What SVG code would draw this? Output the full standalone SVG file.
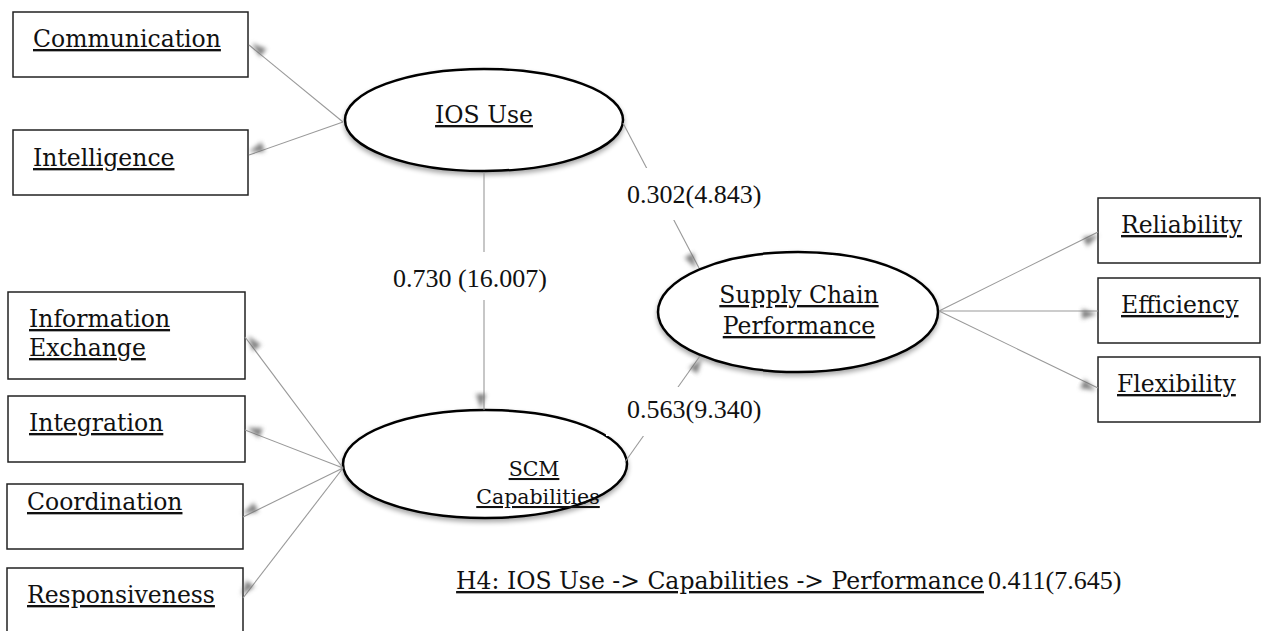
<svg xmlns="http://www.w3.org/2000/svg" width="1265" height="631" viewBox="0 0 1265 631">
<style>
.box{fill:#fff;stroke:#222;stroke-width:1.5}
.lat{fill:#fff;stroke:#000;stroke-width:2.5}
.lbl{font-family:"DejaVu Serif",Georgia,serif;font-size:23.5px;fill:#111;text-decoration:underline}
.sm{font-size:20.5px}
.mid{text-anchor:middle}
.num{font-family:"Liberation Serif","Times New Roman",serif;font-size:26px;fill:#111}
.conn{stroke:#999;stroke-width:1.1;fill:none;marker-end:url(#ah)}
.bg{fill:#fff}
</style>
<defs>
<filter id="sh" x="-20%" y="-20%" width="140%" height="150%">
<feGaussianBlur in="SourceAlpha" stdDeviation="2.5"/>
<feOffset dx="0" dy="3" result="b"/>
<feComponentTransfer><feFuncA type="linear" slope="0.35"/></feComponentTransfer>
<feMerge><feMergeNode/><feMergeNode in="SourceGraphic"/></feMerge>
</filter>
<filter id="blur" x="-100%" y="-100%" width="300%" height="300%">
<feGaussianBlur stdDeviation="2.3"/>
</filter>
<marker id="ah" markerUnits="userSpaceOnUse" markerWidth="40" markerHeight="40" viewBox="-20 -20 40 40" refX="0" refY="0" orient="auto">
<path d="M-15,-5 L0,0 L-15,5 z" fill="#666" fill-opacity="0.85" filter="url(#blur)" transform="translate(-1,3)"/>
</marker>
</defs>

<g id="communication"><rect class="box" x="13" y="12" width="235" height="65"/><text class="lbl" x="33" y="47">Communication</text></g>
<g id="intelligence"><rect class="box" x="13" y="130" width="235" height="65"/><text class="lbl" x="33" y="166">Intelligence</text></g>
<g id="information-exchange"><rect class="box" x="8" y="292" width="237" height="87"/><text class="lbl" x="29" y="327">Information</text><text class="lbl" x="29" y="356">Exchange</text></g>
<g id="integration"><rect class="box" x="8" y="396" width="237" height="66"/><text class="lbl" x="29" y="431">Integration</text></g>
<g id="coordination"><rect class="box" x="7" y="484" width="236" height="65"/><text class="lbl" x="27" y="510">Coordination</text></g>
<g id="responsiveness"><rect class="box" x="7" y="568" width="236" height="70"/><text class="lbl" x="27" y="603">Responsiveness</text></g>
<g id="reliability"><rect class="box" x="1098" y="198" width="162" height="65"/><text class="lbl" x="1121" y="233">Reliability</text></g>
<g id="efficiency"><rect class="box" x="1098" y="278" width="162" height="65"/><text class="lbl" x="1121" y="313">Efficiency</text></g>
<g id="flexibility"><rect class="box" x="1098" y="357" width="162" height="65"/><text class="lbl" x="1117" y="392">Flexibility</text></g>

<g id="ios-use"><ellipse class="lat" filter="url(#sh)" cx="484" cy="120" rx="139" ry="51"/><text class="lbl mid" x="484" y="123">IOS Use</text></g>
<g id="scm-capabilities"><ellipse class="lat" filter="url(#sh)" cx="485" cy="464" rx="142" ry="54"/><text class="lbl sm mid" x="534" y="476">SCM</text><text class="lbl sm mid" x="538" y="504">Capabilities</text></g>
<g id="supply-chain-performance"><ellipse class="lat" filter="url(#sh)" cx="798" cy="312" rx="140" ry="60"/><text class="lbl mid" x="799" y="303">Supply Chain</text><text class="lbl mid" x="799" y="334">Performance</text></g>

<g id="connectors">
<line class="conn" x1="343" y1="122" x2="249" y2="45"/>
<line class="conn" x1="343" y1="122" x2="249" y2="155"/>
<line class="conn" x1="623" y1="123" x2="699" y2="268"/>
<line class="conn" x1="484" y1="172" x2="484" y2="410"/>
<line class="conn" x1="625" y1="462" x2="700" y2="356"/>
<line class="conn" x1="343" y1="468" x2="245" y2="337"/>
<line class="conn" x1="343" y1="468" x2="245" y2="430"/>
<line class="conn" x1="343" y1="468" x2="243" y2="517"/>
<line class="conn" x1="343" y1="468" x2="243" y2="598"/>
<line class="conn" x1="939" y1="311" x2="1098" y2="232"/>
<line class="conn" x1="939" y1="311" x2="1098" y2="311"/>
<line class="conn" x1="939" y1="311" x2="1098" y2="388"/>
<rect class="bg" x="612" y="168" width="163" height="52"/>
<text class="num" x="627" y="203">0.302(4.843)</text>
<rect class="bg" x="385" y="252" width="170" height="48"/>
<text class="num" x="393" y="287">0.730 (16.007)</text>
<rect class="bg" x="606" y="387" width="169" height="49"/>
<text class="num" x="627" y="418">0.563(9.340)</text>
</g>

<g id="h4-note">
<text class="lbl" x="984" y="589" style="text-anchor:end">H4: IOS Use -&gt; Capabilities -&gt; Performance</text>
<text class="num" x="988" y="589">0.411(7.645)</text>
</g>
</svg>
